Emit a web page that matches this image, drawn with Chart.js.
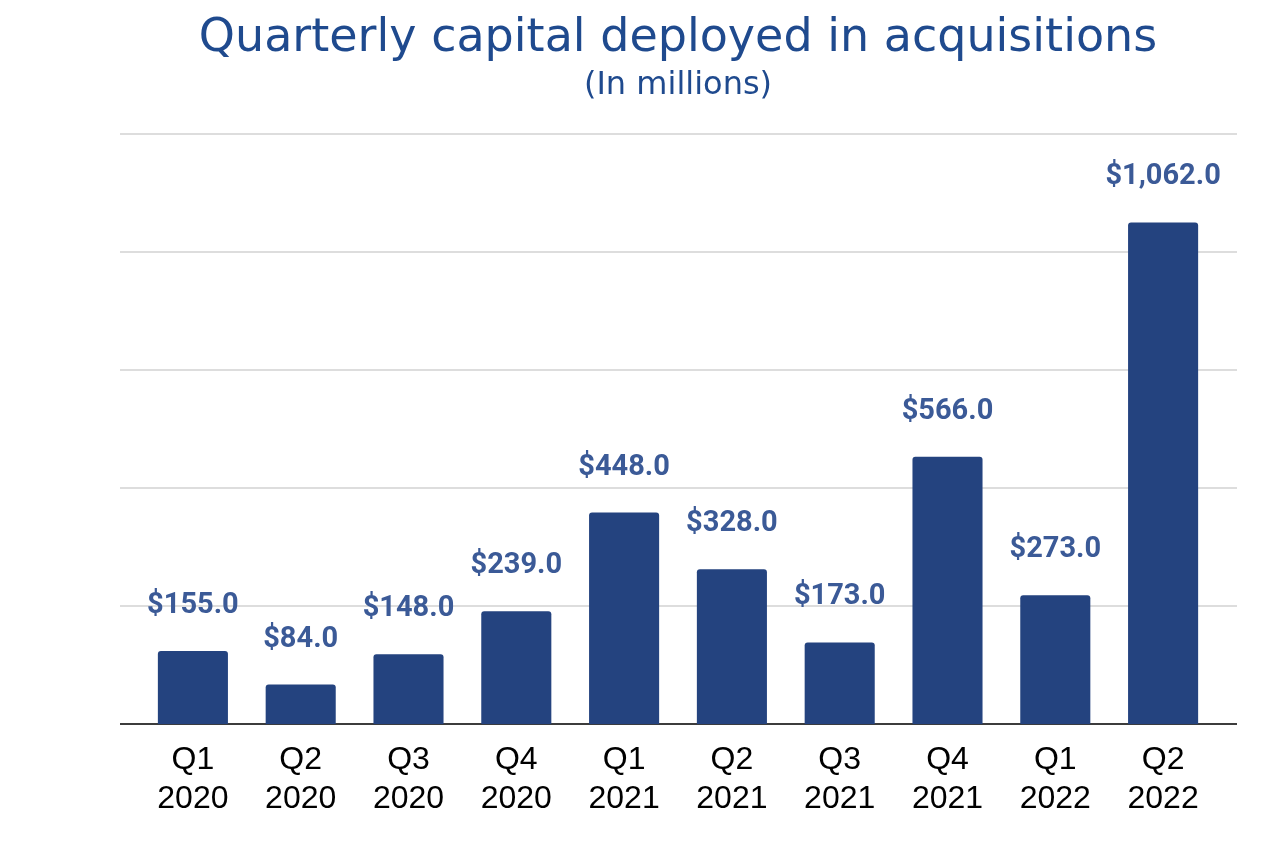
<!DOCTYPE html>
<html>
<head>
<meta charset="utf-8">
<script src="https://cdn.jsdelivr.net/npm/chart.js@4"></script>
<style>
  html, body { margin: 0; padding: 0; background: #fff; }
  #wrap { width: 1280px; height: 845px; }
</style>
</head>
<body>
<div id="wrap"><canvas id="myChart" width="1280" height="845"></canvas></div>
<script>
// chart data
const quarters = ['Q1', 'Q2', 'Q3', 'Q4', 'Q1', 'Q2', 'Q3', 'Q4', 'Q1', 'Q2'];
const years = ['2020', '2020', '2020', '2020', '2021', '2021', '2021', '2021', '2022', '2022'];
const capitalDeployed = [155, 84, 148, 239, 448, 328, 173, 566, 273, 1062];
const yTicks = [0, 250, 500, 750, 1000, 1250];

const labels = quarters.map((q, i) => [q, years[i]]);

const fmtMoney = (v) => '$' + v.toLocaleString('en-US', { minimumFractionDigits: 1, maximumFractionDigits: 1 });

// grid lines + baseline drawn a bit wider than the bars' area
const gridPlugin = {
    id: 'wideGrid',
    beforeDatasetsDraw(chart) {
        const ctx = chart.ctx;
        const y = chart.scales.y;
        const area = chart.chartArea;
        ctx.save();
        yTicks.forEach((t) => {
            const py = Math.round(y.getPixelForValue(t));
            ctx.beginPath();
            ctx.lineWidth = t === 0 ? 2 : 1.5;
            ctx.strokeStyle = t === 0 ? '#3c3c3c' : '#d2d2d2';
            ctx.moveTo(area.left - 19, py);
            ctx.lineTo(area.right + 20, py);
            ctx.stroke();
        });
        ctx.restore();
    }
};

// value labels above the bars
const valueLabels = {
    id: 'valueLabels',
    afterDatasetsDraw(chart) {
        const ctx = chart.ctx;
        const meta = chart.getDatasetMeta(0);
        ctx.save();
        ctx.font = 'bold 29px Roboto';
        ctx.fillStyle = '#3b5a97';
        ctx.textAlign = 'center';
        ctx.textBaseline = 'alphabetic';
        meta.data.forEach((bar, i) => {
            ctx.fillText(fmtMoney(capitalDeployed[i]), bar.x, bar.y - 38);
        });
        ctx.restore();
    }
};

const ctx = document.getElementById('myChart');
new Chart(ctx, {
    type: 'bar',
    data: {
        labels: labels,
        datasets: [
            {
                label: 'Capital deployed',
                data: capitalDeployed,
                backgroundColor: '#24437f',
                borderRadius: 3,
                categoryPercentage: 1.0,
                barPercentage: 0.65
            }
        ]
    },
    options: {
        responsive: false,
        animation: false,
        layout: {
            padding: { left: 139, right: 63, top: 0, bottom: 18 }
        },
        plugins: {
            legend: { display: false },
            tooltip: { enabled: false },
            title: {
                display: true,
                text: 'Quarterly capital deployed in acquisitions',
                color: '#1f4a8e',
                font: { family: "'Comic Sans MS', 'DejaVu Sans', cursive", size: 46, weight: 'normal' },
                padding: { top: 11, bottom: 0 }
            },
            subtitle: {
                display: true,
                text: '(In millions)',
                color: '#1f4a8e',
                font: { family: "'Comic Sans MS', 'DejaVu Sans', cursive", size: 32, weight: 'normal' },
                padding: { top: 0, bottom: 29 }
            }
        },
        scales: {
            x: {
                grid: { display: false },
                border: { display: false },
                ticks: {
                    color: '#000',
                    font: { family: "'Liberation Sans', Arial", size: 32 },
                    padding: 9,
                    maxRotation: 0
                }
            },
            y: {
                display: false,
                min: 0,
                max: 1250,
                afterBuildTicks: (axis) => {
                    axis.ticks = yTicks.map((v) => ({ value: v }));
                }
            }
        }
    },
    plugins: [gridPlugin, valueLabels]
});
</script>
</body>
</html>
